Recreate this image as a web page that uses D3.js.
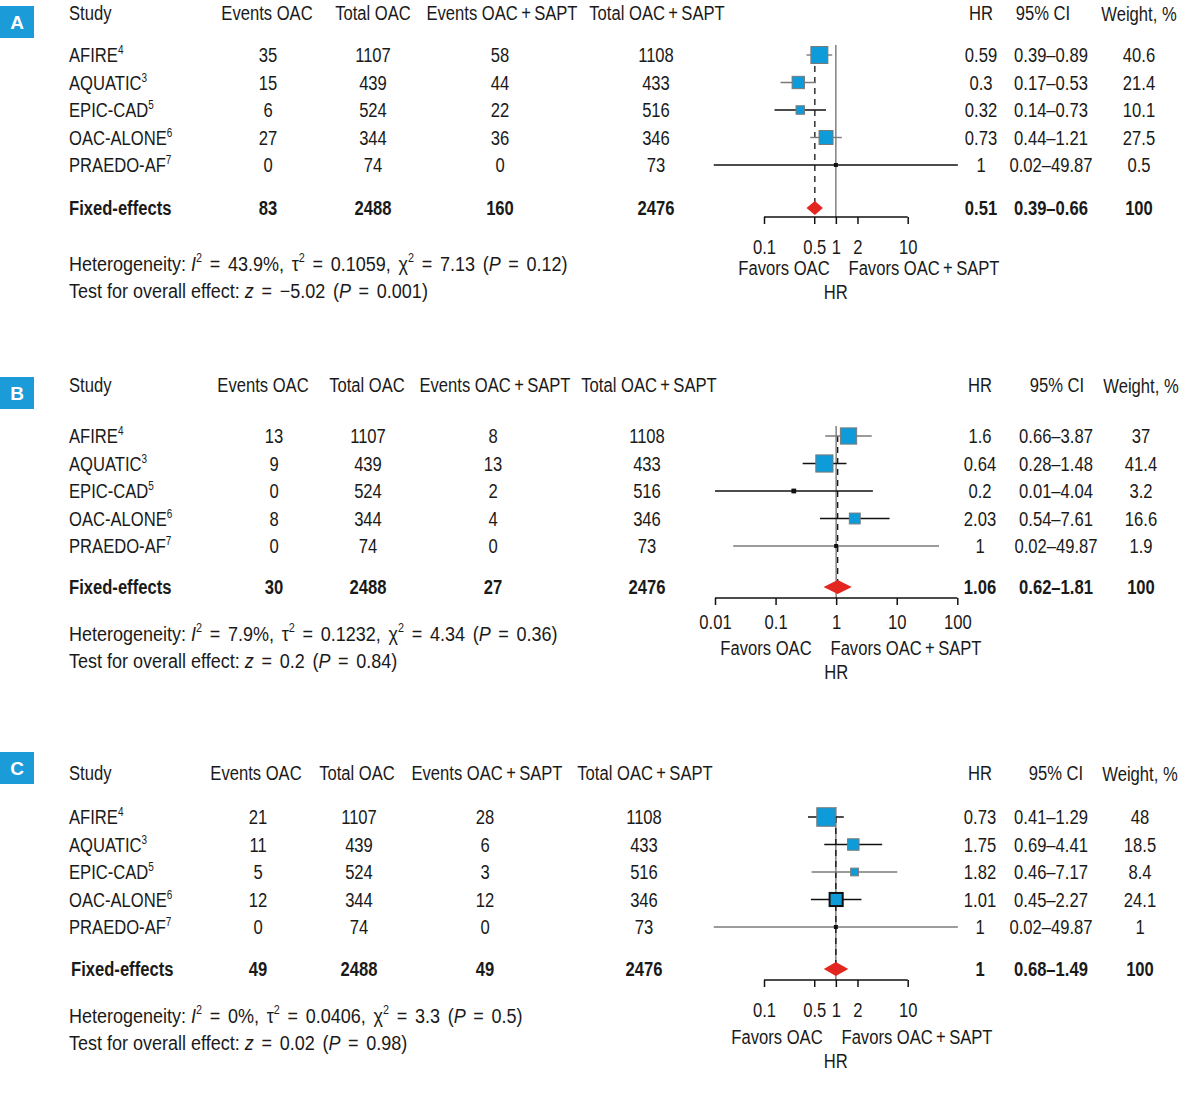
<!DOCTYPE html>
<html>
<head>
<meta charset="utf-8">
<script src="https://cdn.jsdelivr.net/npm/d3@7"></script>
<style>
  body { margin: 0; background: #fff; }
  svg text { font-family: "Liberation Sans", Arial, sans-serif; font-size: 20px; fill: #1a1a1a; }
</style>
</head>
<body>
<script>
var box_color = '#0d9bd9';
var label_color = '#1b9bd8';
var red_color = '#e3261f';
var squeeze = 0.83;
var squeeze_stat = 0.9;

// shared columns
var studies = ['AFIRE', 'AQUATIC', 'EPIC-CAD', 'OAC-ALONE', 'PRAEDO-AF'];
var refs = ['4', '3', '5', '6', '7'];
var totalOac = [1107, 439, 524, 344, 74];
var totalSapt = [1108, 433, 516, 346, 73];
var totalsFixed = [2488, 2476];

// panel A
var eventsOacA = [35, 15, 6, 27, 0];
var eventsSaptA = [58, 44, 22, 36, 0];
var hrA = [0.59, 0.3, 0.32, 0.73, 1];
var ciLowA = [0.39, 0.17, 0.14, 0.44, 0.02];
var ciHighA = [0.89, 0.53, 0.73, 1.21, 49.87];
var weightA = [40.6, 21.4, 10.1, 27.5, 0.5];
var fixedA = { eo: 83, es: 160, hr: 0.51, lo: 0.39, hi: 0.66 };

// panel B
var eventsOacB = [13, 9, 0, 8, 0];
var eventsSaptB = [8, 13, 2, 4, 0];
var hrB = [1.6, 0.64, 0.2, 2.03, 1];
var ciLowB = [0.66, 0.28, 0.01, 0.54, 0.02];
var ciHighB = [3.87, 1.48, 4.04, 7.61, 49.87];
var weightB = [37, 41.4, 3.2, 16.6, 1.9];
var fixedB = { eo: 30, es: 27, hr: 1.06, lo: 0.62, hi: 1.81 };

// panel C
var eventsOacC = [21, 11, 5, 12, 0];
var eventsSaptC = [28, 6, 3, 12, 0];
var hrC = [0.73, 1.75, 1.82, 1.01, 1];
var ciLowC = [0.41, 0.69, 0.46, 0.45, 0.02];
var ciHighC = [1.29, 4.41, 7.17, 2.27, 49.87];
var weightC = [48, 18.5, 8.4, 24.1, 1];
var fixedC = { eo: 49, es: 49, hr: 1, lo: 0.68, hi: 1.49 };

var ticksAC = [0.1, 0.5, 1, 2, 10];
var ticksB = [0.01, 0.1, 1, 10, 100];

var hetA = ['43.9%', '0.1059', '7.13', '0.12'];
var testA = ['\u22125.02', '0.001'];
var hetB = ['7.9%', '0.1232', '4.34', '0.36'];
var testB = ['0.2', '0.84'];
var hetC = ['0%', '0.0406', '3.3', '0.5'];
var testC = ['0.02', '0.98'];

var svg = d3.select('body').append('svg').attr('width', 1197).attr('height', 1094);

var sizeScale = d3.scaleSqrt().domain([0, 100]).range([0, 26.7]);

function fmt(v) { return String(v); }
function ci(lo, hi) { return lo + '\u2013' + hi; }

function txt(g, x, y, s, anchor, bold) {
	return g.append('text')
		.attr('x', x).attr('y', y)
		.attr('dominant-baseline', 'central')
		.attr('text-anchor', anchor || 'middle')
		.attr('font-weight', bold ? 'bold' : null)
		.text(s);
}

function draw_panel(p) {
	var g = svg.append('g');

	// letter box
	g.append('rect').attr('x', 0).attr('y', p.boxY).attr('width', 34).attr('height', 32).style('fill', label_color);
	g.append('text').attr('class', 'letter').attr('x', 17).attr('y', p.boxY + 16).attr('dominant-baseline', 'central')
		.attr('text-anchor', 'middle').attr('font-weight', 'bold').style('fill', '#fff').style('font-size', '19px')
		.text(p.letter);

	// header
	var c = p.cols;
	txt(g, 69, p.headY, 'Study', 'start');
	txt(g, c.hEo, p.headY, 'Events OAC');
	txt(g, c.hTo, p.headY, 'Total OAC');
	txt(g, c.hEs, p.headY, 'Events OAC\u2009+\u2009SAPT');
	txt(g, c.hTs, p.headY, 'Total OAC\u2009+\u2009SAPT');
	txt(g, c.hr, p.headY, 'HR');
	txt(g, c.hCi, p.headY, '95% CI');
	txt(g, c.w, p.headY + 1, 'Weight, %');

	var y = d3.scalePoint().domain(studies).range([p.rowY, p.rowY + 110]);
	var x = d3.scaleLog().domain(p.domain).range(p.range);

	studies.forEach(function(s, i) {
		var yy = y(s);
		var t = txt(g, 69, yy, s, 'start');
		t.append('tspan').attr('dy', -5).style('font-size', '12px').text(refs[i]);
		txt(g, c.eo, yy, fmt(p.eo[i]));
		txt(g, c.to, yy, fmt(totalOac[i]));
		txt(g, c.es, yy, fmt(p.es[i]));
		txt(g, c.ts, yy, fmt(totalSapt[i]));
		txt(g, c.hr, yy, fmt(p.hr[i]));
		txt(g, c.ci, yy, ci(p.lo[i], p.hi[i]));
		txt(g, c.w, yy, fmt(p.w[i]));
	});

	var fy = p.fixedY;
	txt(g, 69 + p.fxOff, fy, 'Fixed-effects', 'start', true);
	txt(g, c.eo, fy, fmt(p.fixed.eo), 'middle', true);
	txt(g, c.to, fy, fmt(totalsFixed[0]), 'middle', true);
	txt(g, c.es, fy, fmt(p.fixed.es), 'middle', true);
	txt(g, c.ts, fy, fmt(totalsFixed[1]), 'middle', true);
	txt(g, c.hr, fy, fmt(p.fixed.hr), 'middle', true);
	txt(g, c.ci, fy, ci(p.fixed.lo, p.fixed.hi), 'middle', true);
	txt(g, c.w, fy, '100', 'middle', true);

	// plot
	var plot = g.append('g');
	plot.append('line')
		.attr('x1', x(1)).attr('x2', x(1))
		.attr('y1', p.rowY - 10).attr('y2', p.axisY)
		.style('stroke', '#808080').style('stroke-width', 1.5);
	plot.append('line')
		.attr('x1', x(p.fixed.hr)).attr('x2', x(p.fixed.hr))
		.attr('y1', p.rowY).attr('y2', fy - 6)
		.style('stroke', '#111').style('stroke-width', 1.3)
		.style('stroke-dasharray', '6,5');

	plot.selectAll('.ci')
		.data(studies)
		.enter()
		.append('line')
		.attr('class', 'ci')
		.attr('x1', function(d, i) { return x(p.lo[i]); })
		.attr('x2', function(d, i) { return x(p.hi[i]); })
		.attr('y1', function(d) { return y(d); })
		.attr('y2', function(d) { return y(d); })
		.style('stroke', function(d, i) { return p.ciDark[i] ? '#111' : '#7a7a7a'; })
		.style('stroke-width', 1.4);

	plot.selectAll('.est')
		.data(studies)
		.enter()
		.append('rect')
		.attr('class', 'est')
		.attr('width', function(d, i) { return Math.max(4, sizeScale(p.w[i])); })
		.attr('height', function(d, i) { return Math.max(4, sizeScale(p.w[i])); })
		.attr('x', function(d, i) { return x(p.hr[i]) - Math.max(4, sizeScale(p.w[i])) / 2; })
		.attr('y', function(d, i) { return y(d) - Math.max(4, sizeScale(p.w[i])) / 2; })
		.style('fill', function(d, i) { return p.w[i] < 5 ? '#111' : box_color; })
		.style('stroke', function(d, i) { return p.w[i] < 5 ? 'none' : (p.boxDark === i ? '#111' : '#7a7a7a'); })
		.style('stroke-width', function(d, i) { return p.boxDark === i ? 2 : 1; });

	var hx = x(p.fixed.hr);
	plot.append('path')
		.attr('d', 'M' + x(p.fixed.lo) + ',' + fy + 'L' + hx + ',' + (fy - 7) + 'L' + x(p.fixed.hi) + ',' + fy + 'L' + hx + ',' + (fy + 7) + 'Z')
		.style('fill', red_color);

	var axis = d3.axisBottom(x)
		.tickValues(p.ticks)
		.tickFormat(function(d) { return String(d); })
		.tickSizeInner(7)
		.tickSizeOuter(0)
		.tickPadding(p.tickPad);
	var ax = plot.append('g')
		.attr('transform', 'translate(0,' + p.axisY + ')')
		.call(axis);
	ax.select('.domain').attr('d', 'M' + x(p.ticks[0]) + ',0H' + x(p.ticks[p.ticks.length - 1])).style('stroke', '#111').style('stroke-width', 1.5);
	ax.selectAll('.tick line').style('stroke', '#111').style('stroke-width', 1.5);
	ax.selectAll('.tick text').style('font-size', '20px').attr('fill', '#1a1a1a');

	txt(g, p.favL, p.favY, 'Favors OAC');
	txt(g, p.favR, p.favY, 'Favors OAC\u2009+\u2009SAPT');
	txt(g, x(1), p.favY + 24, 'HR');

	// heterogeneity + overall effect
	var h = g.append('text').attr('class', 'stat').attr('x', 69).attr('y', p.hetY).attr('dominant-baseline', 'central');
	h.append('tspan').text('Heterogeneity: ');
	h.append('tspan').style('font-style', 'italic').text('I');
	h.append('tspan').attr('dy', -6).style('font-size', '12px').text('2');
	h.append('tspan').attr('dy', 6).attr('class', 'eq').text(' = ' + p.het[0] + ', \u03c4');
	h.append('tspan').attr('dy', -6).style('font-size', '12px').text('2');
	h.append('tspan').attr('dy', 6).attr('class', 'eq').text(' = ' + p.het[1] + ',  \u03c7');
	h.append('tspan').attr('dy', -6).style('font-size', '12px').text('2');
	h.append('tspan').attr('dy', 6).attr('class', 'eq').text(' = ' + p.het[2] + ' (');
	h.append('tspan').style('font-style', 'italic').text('P');
	h.append('tspan').attr('class', 'eq').text(' = ' + p.het[3] + ')');

	var o = g.append('text').attr('class', 'stat').attr('x', 69).attr('y', p.hetY + 27).attr('dominant-baseline', 'central');
	o.append('tspan').text('Test for overall effect: ');
	o.append('tspan').style('font-style', 'italic').text('z');
	o.append('tspan').attr('class', 'eq').text(' = ' + p.test[0] + ' (');
	o.append('tspan').style('font-style', 'italic').text('P');
	o.append('tspan').attr('class', 'eq').text(' = ' + p.test[1] + ')');
}

draw_panel({
	letter: 'A', boxY: 6, headY: 13, rowY: 55, fixedY: 208, axisY: 217, fxOff: 0,
	cols: { hEo: 267, hTo: 373, hEs: 502, hTs: 657, eo: 268, to: 373, es: 500, ts: 656, hr: 981, hCi: 1043, ci: 1051, w: 1139 },
	eo: eventsOacA, es: eventsSaptA, hr: hrA, lo: ciLowA, hi: ciHighA, w: weightA, fixed: fixedA,
	ciDark: [0, 0, 1, 0, 1], boxDark: -1,
	domain: [0.1, 10], range: [764, 907.7], ticks: ticksAC, tickPad: 16,
	favL: 784, favR: 924, favY: 268, hetY: 264, het: hetA, test: testA
});

draw_panel({
	letter: 'B', boxY: 377, headY: 385, rowY: 436, fixedY: 587, axisY: 598, fxOff: 0,
	cols: { hEo: 263, hTo: 367, hEs: 495, hTs: 649, eo: 274, to: 368, es: 493, ts: 647, hr: 980, hCi: 1057, ci: 1056, w: 1141 },
	eo: eventsOacB, es: eventsSaptB, hr: hrB, lo: ciLowB, hi: ciHighB, w: weightB, fixed: fixedB,
	ciDark: [0, 1, 1, 1, 0], boxDark: -1,
	domain: [0.01, 100], range: [715, 957.3], ticks: ticksB, tickPad: 10,
	favL: 766, favR: 906, favY: 648, hetY: 634, het: hetB, test: testB
});

draw_panel({
	letter: 'C', boxY: 752, headY: 773, rowY: 817, fixedY: 969, axisY: 980, fxOff: 2,
	cols: { hEo: 256, hTo: 357, hEs: 487, hTs: 645, eo: 258, to: 359, es: 485, ts: 644, hr: 980, hCi: 1056, ci: 1051, w: 1140 },
	eo: eventsOacC, es: eventsSaptC, hr: hrC, lo: ciLowC, hi: ciHighC, w: weightC, fixed: fixedC,
	ciDark: [1, 1, 0, 1, 0], boxDark: 3,
	domain: [0.1, 10], range: [764, 907.7], ticks: ticksAC, tickPad: 16,
	favL: 777, favR: 917, favY: 1037, hetY: 1016, het: hetC, test: testC
});

// wider spaces around the equals signs in the stats lines
svg.selectAll('tspan.eq').style('word-spacing', '3px');

// condensed look: squeeze every text horizontally
svg.selectAll('text').filter(function() { return !this.classList.contains('letter'); }).each(function() {
	var len = this.getComputedTextLength();
	var f = this.classList.contains('stat') ? squeeze_stat : squeeze;
	d3.select(this).attr('textLength', len * f).attr('lengthAdjust', 'spacingAndGlyphs');
});
</script>
</body>
</html>
